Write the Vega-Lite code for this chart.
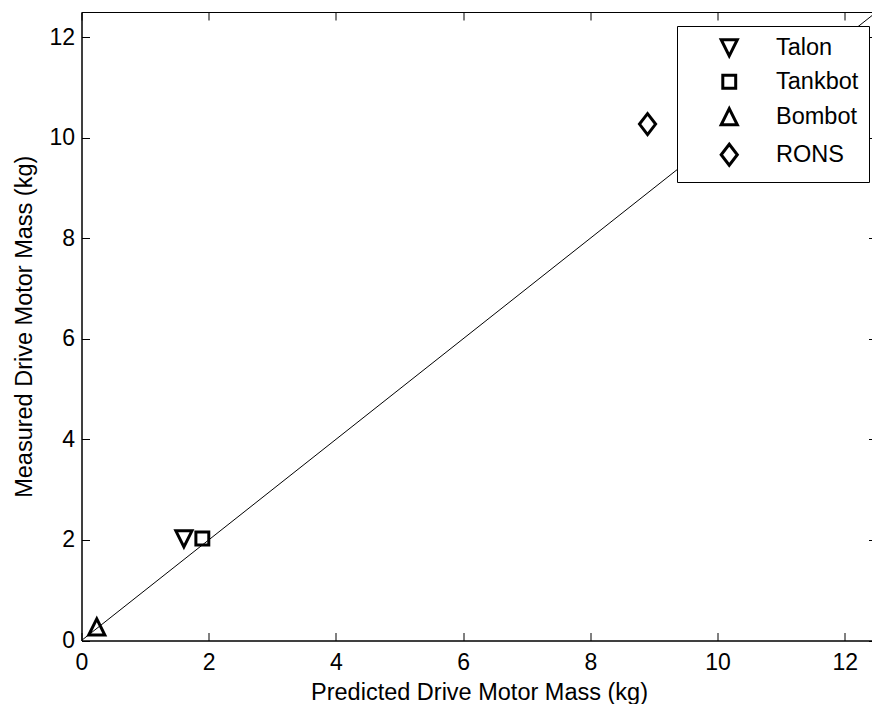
{
  "$schema": "https://vega.github.io/schema/vega-lite/v6.json",
  "width": 795,
  "height": 628.5,
  "autosize": "none",
  "padding": {"left": 81.5, "top": 12, "right": 0, "bottom": 63.5},
  "background": "white",
  "config": {
    "view": {"stroke": "black", "strokeWidth": 1},
    "font": "Liberation Sans",
    "axis": {
      "grid": false,
      "domainColor": "black",
      "domainWidth": 1,
      "tickColor": "black",
      "tickWidth": 1,
      "tickSize": -8,
      "labelColor": "black",
      "labelFont": "Liberation Sans",
      "labelFontSize": 23,
      "titleColor": "black",
      "titleFont": "Liberation Sans",
      "titleFontSize": 23.5,
      "titleFontWeight": "normal",
      "labelFlush": false,
      "labelOverlap": false
    },
    "legend": {
      "labelFont": "Liberation Sans",
      "labelFontSize": 23.5,
      "labelColor": "black"
    }
  },
  "datasets": {
    "pts": [
      {"robot": "Talon", "predicted": 1.61, "measured": 2.02},
      {"robot": "Tankbot", "predicted": 1.9, "measured": 2.03},
      {"robot": "Bombot", "predicted": 0.24, "measured": 0.27},
      {"robot": "RONS", "predicted": 8.9, "measured": 10.27}
    ],
    "diag": [
      {"predicted": 0, "measured": 0},
      {"predicted": 12.5, "measured": 12.5}
    ]
  },
  "layer": [
    {
      "data": {"name": "diag"},
      "mark": {"type": "line", "color": "black", "strokeWidth": 1, "clip": true},
      "encoding": {
        "x": {
          "field": "predicted", "type": "quantitative",
          "scale": {"domain": [0, 12.5], "nice": false, "zero": false},
          "axis": {
            "orient": "bottom",
            "values": [0, 2, 4, 6, 8, 10, 12],
            "labelPadding": 19,
            "title": "Predicted Drive Motor Mass (kg)",
            "titleBaseline": "alphabetic",
            "titleY": 59
          }
        },
        "y": {
          "field": "measured", "type": "quantitative",
          "scale": {"domain": [0, 12.5], "nice": false, "zero": false},
          "axis": {
            "orient": "left",
            "values": [0, 2, 4, 6, 8, 10, 12],
            "labelPadding": 15,
            "title": "Measured Drive Motor Mass (kg)",
            "titleBaseline": "alphabetic",
            "titleX": -50.5,
            "titleAngle": 270
          }
        }
      }
    },
    {
      "data": {"name": "pts"},
      "mark": {"type": "point", "filled": false, "strokeWidth": 3, "color": "black", "size": 260, "opacity": 1},
      "encoding": {
        "x": {
          "field": "predicted", "type": "quantitative",
          "scale": {"domain": [0, 12.5], "nice": false, "zero": false},
          "axis": {"orient": "top", "values": [0, 2, 4, 6, 8, 10, 12], "labels": false, "title": null}
        },
        "y": {
          "field": "measured", "type": "quantitative",
          "scale": {"domain": [0, 12.5], "nice": false, "zero": false},
          "axis": {"orient": "right", "values": [0, 2, 4, 6, 8, 10, 12], "labels": false, "title": null}
        },
        "shape": {
          "field": "robot", "type": "nominal",
          "scale": {
            "domain": ["Talon", "Tankbot", "Bombot", "RONS"],
            "range": [
              "M-1,-1L1,-1L0,1Z",
              "M-0.8,-0.8L0.8,-0.8L0.8,0.8L-0.8,0.8Z",
              "M-1,1L1,1L0,-1Z",
              "M0,-1.3L1,0L0,1.3L-1,0Z"
            ]
          },
          "legend": {
            "title": null,
            "orient": "none",
            "legendX": 595.5,
            "legendY": 14,
            "padding": 10,
            "strokeColor": "black",
            "fillColor": "white",
            "symbolSize": 260,
            "symbolStrokeWidth": 3,
            "symbolStrokeColor": "black",
            "symbolFillColor": "transparent",
            "symbolOpacity": 1,
            "symbolOffset": 30.5,
            "labelOffset": 35,
            "rowPadding": 7,
            "cornerRadius": 0
          }
        }
      }
    }
  ],
  "resolve": {"axis": {"x": "independent", "y": "independent"}}
}
